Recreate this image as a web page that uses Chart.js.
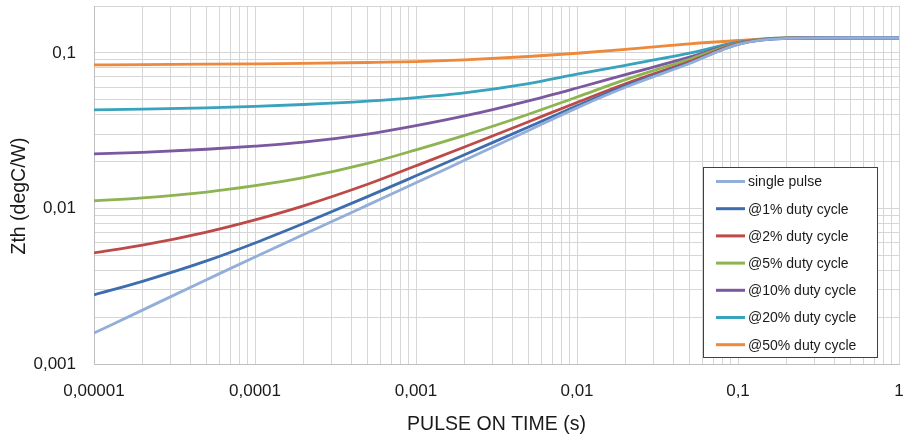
<!DOCTYPE html>
<html>
<head>
<meta charset="utf-8">
<script src="https://cdn.jsdelivr.net/npm/chart.js@4.4.1/dist/chart.umd.min.js"></script>
<style>
html, body { margin: 0; padding: 0; background: #fff; }
#wrap { width: 906px; height: 440px; }
</style>
</head>
<body>
<div id="wrap"><canvas id="zthChart" width="906" height="440"></canvas></div>
<script>
// pulse on time (s)
var pulseTimes = [1e-5, 2e-5, 5e-5, 1e-4, 2e-4, 5e-4, 1e-3, 2e-3, 5e-3, 1e-2, 2e-2, 5e-2, 0.1, 0.2, 0.5, 1];

// Zth (degC/W) per curve
var singlePulse = [0.00158, 0.00222, 0.00348, 0.00488, 0.00679, 0.0105, 0.0146, 0.0204, 0.0317, 0.0443, 0.0601, 0.0854, 0.1135, 0.124, 0.125, 0.125];
var duty1 = [0.00278, 0.0034, 0.0046, 0.006, 0.008, 0.0119, 0.0162, 0.0221, 0.0334, 0.0456, 0.0614, 0.0862, 0.1135, 0.124, 0.125, 0.125];
var duty2 = [0.00518, 0.0058, 0.00704, 0.00843, 0.01038, 0.0143, 0.0188, 0.0248, 0.0361, 0.048, 0.0633, 0.0879, 0.1145, 0.1242, 0.125, 0.125];
var duty5 = [0.0112, 0.01168, 0.01274, 0.014, 0.01575, 0.01945, 0.0238, 0.0295, 0.0403, 0.052, 0.0672, 0.091, 0.1155, 0.1243, 0.125, 0.125];
var duty10 = [0.0224, 0.02293, 0.02401, 0.02512, 0.02664, 0.03002, 0.034, 0.03927, 0.04916, 0.05943, 0.07243, 0.09376, 0.1158, 0.1245, 0.125, 0.125];
var duty20 = [0.043, 0.04345, 0.04434, 0.0453, 0.04656, 0.04898, 0.0516, 0.0553, 0.0634, 0.0729, 0.0832, 0.0995, 0.117, 0.1246, 0.125, 0.125];
var duty50 = [0.0837, 0.084, 0.0845, 0.085, 0.0856, 0.0867, 0.0879, 0.0901, 0.0947, 0.0994, 0.1051, 0.1143, 0.12, 0.1248, 0.125, 0.125];

var seriesNames = ['single pulse', '@1% duty cycle', '@2% duty cycle', '@5% duty cycle', '@10% duty cycle', '@20% duty cycle', '@50% duty cycle'];
var seriesValues = [singlePulse, duty1, duty2, duty5, duty10, duty20, duty50];
var seriesColors = ['#93AED8', '#3D6DAE', '#BD4A47', '#8DB450', '#7B58A0', '#39A2BC', '#EE883B'];

// axis decades + their labels
var xDecades = [1e-5, 1e-4, 1e-3, 1e-2, 1e-1, 1];
var xTickLabels = ['0,00001', '0,0001', '0,001', '0,01', '0,1', '1'];
var yDecades = [0.001, 0.01, 0.1];
var yTickLabels = ['0,001', '0,01', '0,1'];
var yMax = 0.2;
var yTitle = 'Zth (degC/W)';

var fontFamily = '"Liberation Sans", Arial, sans-serif';

function toPoints(values) {
    return pulseTimes.map(function(t, i) { return {x: t, y: values[i]}; });
}

// 1..9 x each decade, up to max
function logGrid(decades, max) {
    var out = [];
    decades.forEach(function(d) {
        for (var m = 1; m <= 9; m++) {
            var v = m * d;
            if (v <= max * 1.0000001) out.push(v);
        }
    });
    return out;
}

function decadeLabel(value, decades, labels) {
    for (var i = 0; i < decades.length; i++) {
        if (Math.abs(value / decades[i] - 1) < 1e-6) return labels[i];
    }
    return '';
}

var datasets = seriesNames.map(function(name, i) {
    return {
        label: name,
        data: toPoints(seriesValues[i]),
        borderColor: seriesColors[i],
        backgroundColor: seriesColors[i],
        borderWidth: 2.8,
        pointRadius: 0,
        fill: false,
        cubicInterpolationMode: 'monotone'
    };
});

// legend drawn inside the plot, boxed like the original
// (also draws the y title, sitting a bit lower than chart.js would put it)
var insideLegend = {
    id: 'insideLegend',
    afterDraw: function(chart) {
        var ctx = chart.ctx;
        ctx.save();
        ctx.fillStyle = '#ffffff';
        ctx.fillRect(703, 167, 174, 190);
        ctx.strokeStyle = '#404040';
        ctx.lineWidth = 1;
        ctx.strokeRect(703.5, 167.5, 174, 190);
        ctx.font = '14px ' + fontFamily;
        ctx.textBaseline = 'middle';
        chart.data.datasets.forEach(function(ds, i) {
            var y = 181.5 + i * 27.2;
            ctx.strokeStyle = ds.borderColor;
            ctx.lineWidth = 3;
            ctx.beginPath();
            ctx.moveTo(716, y);
            ctx.lineTo(745, y);
            ctx.stroke();
            ctx.fillStyle = '#1a1a1a';
            ctx.fillText(ds.label, 748, y + 1);
        });
        ctx.restore();

        ctx.save();
        ctx.translate(20, 196);
        ctx.rotate(-Math.PI / 2);
        ctx.font = '19.5px ' + fontFamily;
        ctx.fillStyle = '#1a1a1a';
        ctx.textAlign = 'center';
        ctx.textBaseline = 'middle';
        ctx.fillText(yTitle, 0, 0);
        ctx.restore();
    }
};

var ctx = document.getElementById('zthChart').getContext('2d');
var zthChart = new Chart(ctx, {
    type: 'line',
    data: { datasets: datasets },
    options: {
        responsive: false,
        animation: false,
        devicePixelRatio: 1,
        layout: { padding: { left: 0, right: 7, top: 6, bottom: 0 } },
        plugins: {
            legend: { display: false },
            tooltip: { enabled: false }
        },
        scales: {
            x: {
                type: 'logarithmic',
                min: 1e-5,
                max: 1,
                afterBuildTicks: function(scale) {
                    scale.ticks = logGrid(xDecades, 1).map(function(v) { return {value: v}; });
                },
                afterFit: function(scale) {
                    scale.height = 76;
                    scale.paddingLeft = 0;
                    scale.paddingRight = 0;
                },
                ticks: {
                    autoSkip: false,
                    maxRotation: 0,
                    padding: 17,
                    color: '#1a1a1a',
                    font: { family: fontFamily, size: 17 },
                    callback: function(v) { return decadeLabel(v, xDecades, xTickLabels); }
                },
                grid: { color: '#D6D6D6', drawTicks: false },
                border: { color: '#BFBFBF' },
                title: {
                    display: true,
                    text: 'PULSE ON TIME (s)',
                    color: '#1a1a1a',
                    font: { family: fontFamily, size: 19.5 },
                    padding: { top: 0, bottom: 4 }
                }
            },
            y: {
                type: 'logarithmic',
                min: 0.001,
                max: yMax,
                afterBuildTicks: function(scale) {
                    scale.ticks = logGrid(yDecades, yMax).map(function(v) { return {value: v}; });
                },
                afterFit: function(scale) {
                    scale.width = 94;
                    scale.paddingTop = 0;
                    scale.paddingBottom = 0;
                },
                ticks: {
                    autoSkip: false,
                    padding: 18,
                    color: '#1a1a1a',
                    font: { family: fontFamily, size: 17 },
                    callback: function(v) { return decadeLabel(v, yDecades, yTickLabels); }
                },
                grid: { color: '#D6D6D6', drawTicks: false },
                border: { color: '#BFBFBF' }
            }
        }
    },
    plugins: [insideLegend]
});
</script>
</body>
</html>
